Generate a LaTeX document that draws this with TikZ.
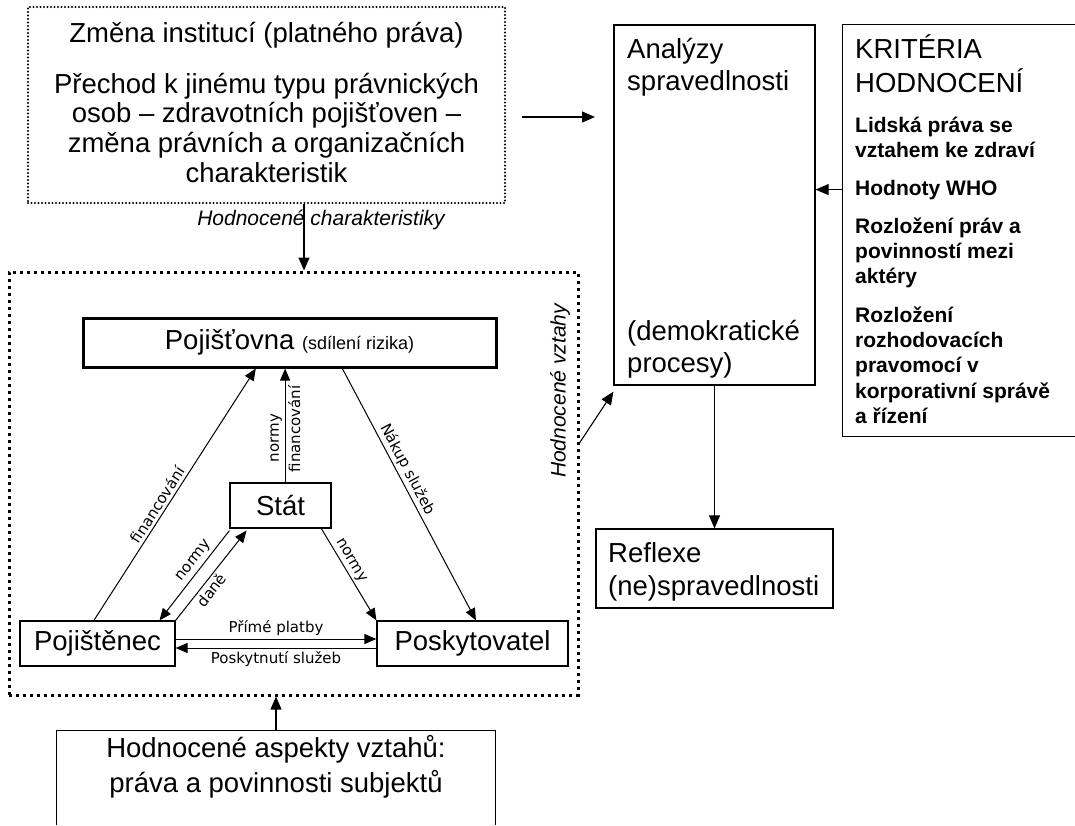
\documentclass[tikz,border=0pt]{standalone}
\usepackage{fontspec}
\setmainfont{Liberation Sans}
\newfontfamily\dejavu{DejaVu Sans}
\usetikzlibrary{arrows.meta,calc}

% font size helper and a first-line strut (top of node = baseline - 1em)
\newcommand\fs[2]{\fontsize{#1}{#2}\selectfont}
\newcommand\fl{\rule{0pt}{1em}}

\begin{document}
\begin{tikzpicture}[x=1pt,y=-1pt,
  box/.style={draw, line width=1.2pt, inner sep=0pt},
  plain/.style={draw=none, inner sep=0pt},
  dotfine/.style={draw, line width=2.3pt, dash pattern=on 0pt off 3.5pt, line cap=round, inner sep=0pt},
  dotbold/.style={draw, line width=3pt, dash pattern=on 3pt off 4pt, inner sep=0pt},
  arr/.style={line width=1.1pt, -{Triangle[length=13pt,width=11pt]}},
  tarr/.style={line width=1pt, -{Triangle[length=12pt,width=10pt]}},
  rarr/.style={line width=1pt, {Triangle[length=12pt,width=10pt]}-},
  big/.style={font=\fs{27.5}{33}},
  crit/.style={font=\bfseries\fs{21}{25.3}},
  lbl/.style={font=\dejavu\fs{15}{18}, inner sep=2.5pt},
  itl/.style={font=\itshape\fs{21}{25}},
  tl/.style={inner sep=0pt, align=left, anchor=north west},
]
\useasboundingbox (0,0) rectangle (1075,825);

% ---- institutional change (top left) ----
\node[dotfine, minimum width=477pt, minimum height=196pt] (tb) at (266.5,105) {};
\node[big, inner sep=0pt, anchor=base] (tbtitle) at (266.5,42) {Změna institucí (platného práva)};
\node[font=\fs{27.5}{29.7}, inner sep=0pt, align=center, anchor=north] (tbtext) at (266.5,65.5)
  {\fl Přechod k jinému typu právnických\\osob – zdravotních pojišťoven –\\změna právních a organizačních\\charakteristik};
\node[itl, inner sep=0pt, anchor=base] (hchar) at (321,225) {Hodnocené charakteristiky};

% ---- justice analysis column ----
\node[box, minimum width=201pt, minimum height=360pt] (an) at (714.5,205) {};
\node[tl, font=\fs{27.5}{32}] (antop) at (627,30.5) {\fl Analýzy\\spravedlnosti};
\node[tl, font=\fs{27.5}{32}] (anbot) at (627,312.5) {\fl (demokratické\\procesy)};

\node[box, minimum width=237pt, minimum height=79pt] (rf) at (714.5,568.5) {};
\node[tl, font=\fs{27.5}{33}] (rftext) at (608,534.5) {\fl Reflexe\\(ne)spravedlnosti};

% ---- evaluation criteria (open on the right) ----
\node[plain, minimum width=232pt, minimum height=411pt] (kr) at (959,230.5) {};
\draw[line width=1.2pt] (kr.north east) -- (kr.north west) -- (kr.south west) -- (kr.south east);
\node[tl, font=\fs{27.5}{34}] (krhead) at (855,30.5) {\fl KRITÉRIA\\HODNOCENÍ};
\node[tl, crit] (kr1) at (855,111) {\fl Lidská práva se\\vztahem ke zdraví};
\node[crit, inner sep=0pt, anchor=base west] (who) at (855,195) {Hodnoty WHO};
\node[tl, crit] (kr3) at (855,212) {\fl Rozložení práv a\\povinností mezi\\aktéry};
\node[tl, crit] (kr4) at (855,301) {\fl Rozložení\\rozhodovacích\\pravomocí v\\korporativní správě\\a řízení};

% ---- evaluated relationships (dotted frame) ----
\node[dotbold, minimum width=569pt, minimum height=423pt] (b2) at (293.5,483.5) {};
\node[itl, inner sep=0pt, rotate=90] (hvz) at (560,391) {Hodnocené vztahy};

\node[draw, line width=3pt, inner sep=0pt, minimum width=413pt, minimum height=49pt, big] (po) at (289.5,342.5)
  {Pojišťovna {\fs{18}{20}(sdílení rizika)}};
\node[box, big, minimum width=101pt, minimum height=45pt] (st) at (280.5,505.5) {Stát};
\node[box, big, minimum width=155pt, minimum height=45pt] (pj) at (97.5,643.5) {Pojištěnec};
\node[box, big, minimum width=191pt, minimum height=45pt] (pk) at (472.5,643.5) {Poskytovatel};

% ---- aspects box (bottom, open at the page edge) ----
\node[plain, minimum width=438pt, minimum height=94pt] (bb) at (276,778) {};
\draw[line width=1.2pt] (bb.south west) -- (bb.north west) -- (bb.north east) -- (bb.south east);
\node[font=\fs{27.5}{35}, inner sep=0pt, align=center, anchor=north] (bbtext) at (276,729.5)
  {\fl Hodnocené aspekty vztahů:\\práva a povinnosti subjektů};

% ---- connectors between the blocks ----
\coordinate (ta) at (522,117);
\coordinate (tz) at (595,117);
\draw[arr] (ta) -- (tz);
\draw[arr] ([xshift=37.5pt]tb.south) -- ([xshift=37.5pt]tb.south |- b2.north);
\draw[arr] (bb.north) -- (bb.north |- b2.south);
\draw[arr] ([yshift=40.5pt]b2.east) -- ([yshift=-6pt]an.south west);
\draw[arr] (an.south) -- (rf.north);
\draw[arr] (kr.west |- who) -- (an.east |- who);

% ---- relations inside the triangle ----
\draw[tarr] ($(pj.north west)!0.477!(pj.north east)$) -- ($(po.south west)!0.419!(po.south east)$)
  node[lbl, sloped, above, pos=0.44] {financování};
\draw[tarr] ($(st.north west)!0.545!(st.north east)$) coordinate (sv) -- (sv |- po.south)
  node[lbl, sloped, above, pos=0.39] {normy}
  node[lbl, sloped, below, pos=0.47] {financování};
\draw[tarr] ($(po.south west)!0.627!(po.south east)$) -- ($(pk.north west)!0.518!(pk.north east)$)
  node[lbl, sloped, above, pos=0.42] {Nákup služeb};
\draw[rarr] ($(pj.north west)!0.897!(pj.north east)$) -- ([yshift=-2pt]st.south west)
  node[lbl, sloped, above, pos=0.6] {normy};
\draw[tarr] (pj.north east) -- ([yshift=-2pt]$(st.south west)!0.168!(st.south east)$)
  node[lbl, sloped, below, pos=0.4] {daně};
\draw[tarr] ($(st.south west)!0.9!(st.south east)$) -- (pk.north west)
  node[lbl, sloped, above, pos=0.4] {normy};
\draw[tarr] ([yshift=4.5pt]pj.east) -- ([yshift=4.5pt]pk.west)
  node[lbl, above, midway] {Přímé platby};
\draw[tarr] ([yshift=-4.5pt]pk.west) -- ([yshift=-4.5pt]pj.east)
  node[lbl, below, midway] {Poskytnutí služeb};
\end{tikzpicture}
\end{document}
